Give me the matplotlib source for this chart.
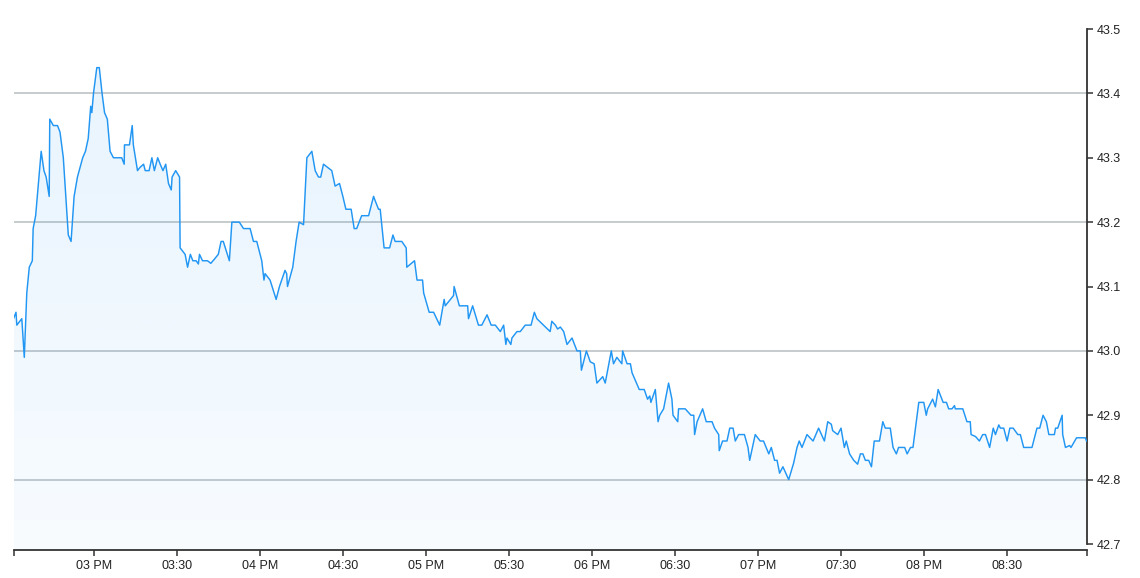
import numpy as np
import pandas as pd
import matplotlib
matplotlib.use("Agg")
import matplotlib.pyplot as plt
import matplotlib.dates as mdates
from matplotlib.ticker import FuncFormatter

plt.rcParams['font.family'] = ['Liberation Sans', 'DejaVu Sans']

# minutes after 14:30 and the price at that vertex
minutes = [
    1.0, 1.9, 2.2, 4.0, 4.9, 5.8, 6.7, 7.8, 8.1, 9.0, 11.0, 12.0, 12.8, 13.9, 14.1,
    15.4, 16.9, 17.8, 19.0, 20.8, 21.8, 22.9, 24.1, 26.0, 27.0, 28.0, 28.9, 29.3, 29.9,
    31.1, 32.0, 33.0, 33.9, 34.9, 35.9, 37.1, 38.9, 40.1, 41.0, 41.1, 42.9, 43.9, 44.3,
    45.8, 46.7, 48.0, 48.6, 50.0, 51.0, 51.9, 53.1, 54.0, 55.0, 56.0, 57.0, 58.0, 58.3,
    59.6, 61.0, 61.2, 63.0, 63.9, 64.9,
    65.8, 67.0, 67.8, 68.2, 69.3, 71.1, 72.3, 73.5, 75.0, 76.0, 76.8, 79.0, 79.9, 82.6,
    84.1, 86.5, 87.7, 88.9, 90.7, 91.5, 91.9, 93.7, 95.9, 97.1, 99.1, 99.7, 100.0, 101.9,
    103.1, 104.2, 105.8, 107.0, 108.8, 110.0, 111.2, 112.0, 113.0, 116.0, 117.2, 118.8,
    120.0, 121.1, 123.0, 124.1, 125.0, 126.8, 129.3, 131.1, 131.7, 132.9, 133.5, 134.9,
    136.9, 138.1, 138.9, 140.1, 141.3, 142.9, 143.1, 145.9, 146.8, 148.8, 149.2, 151.2,
    152.8, 155.0, 156.6, 157.0, 160.0, 160.2, 162.1, 165.1, 165.4, 166.9, 169.0, 170.2,
    172.1, 173.6, 175.1, 176.9, 178.1, 178.9, 179.3, 180.7, 181.1, 182.9, 184.1, 185.9,
    188.0, 189.2, 190.1, 192.5, 194.9, 195.5, 196.8, 197.6, 198.6, 199.8, 201.0, 202.8,
    204.6, 205.8, 206.2, 208.0,
    209.4, 210.8, 211.8, 213.9, 214.8, 217.0, 217.8, 219.0, 220.8, 221.1, 222.7, 223.9,
    224.5, 227.1, 228.9, 230.1, 230.9, 231.3, 232.9, 233.9, 234.5, 235.9, 237.7, 238.9,
    239.3, 241.0, 241.3, 243.7, 245.8, 246.8, 247.1, 248.0, 250.0, 251.3, 253.4, 254.3,
    255.8, 256.0, 257.2, 258.8, 259.8, 261.0, 261.8, 263.0, 265.1, 266.4, 267.0, 269.0,
    270.8, 272.0, 273.9, 274.8, 276.0, 276.9, 277.8, 279.0, 281.1, 282.9, 284.1, 284.9,
    285.9, 287.7, 289.9, 291.9, 294.0, 295.2, 296.5, 297.0, 298.8, 300.0, 301.2, 301.9,
    303.1, 304.6, 306.0, 307.0, 307.9, 308.8, 310.0, 311.0, 312.0, 313.9, 315.1, 316.0,
    317.8, 318.8, 320.0, 320.8, 323.0, 323.9, 325.1, 326.0, 326.9, 328.1, 329.9, 330.8,
    331.3, 333.1, 334.1, 335.1, 336.9, 338.1, 338.9, 340.1, 341.0, 341.3, 344.0, 345.5,
    346.7, 347.0, 348.6, 350.0, 351.2, 352.2, 353.7, 355.0, 355.8, 357.0, 357.6, 358.8,
    360.0, 361.0, 362.2, 363.9, 364.8, 366.0, 369.0, 370.8, 371.8, 373.0, 374.2, 375.1,
    377.1, 377.5, 378.3, 379.9, 380.1, 381.1, 382.6, 383.1, 385.1, 388.3, 388.7,
]
prices = [
    43.05, 43.06, 43.04, 43.05, 42.99, 43.09, 43.13, 43.14, 43.19, 43.21, 43.31, 43.28, 43.27, 43.24, 43.36,
    43.35, 43.35, 43.34, 43.30, 43.18, 43.17, 43.24, 43.27, 43.30, 43.31, 43.33, 43.38, 43.37, 43.40,
    43.44, 43.44, 43.40, 43.37, 43.36, 43.31, 43.30, 43.30, 43.30, 43.29, 43.32, 43.32, 43.35, 43.32,
    43.28, 43.285, 43.29, 43.28, 43.28, 43.30, 43.28, 43.30, 43.29, 43.28, 43.29, 43.26, 43.25, 43.27,
    43.28, 43.27, 43.16, 43.15, 43.13, 43.15,
    43.14, 43.14, 43.135, 43.15, 43.14, 43.14, 43.136, 43.142, 43.15, 43.17, 43.17, 43.14, 43.20, 43.20,
    43.19, 43.19, 43.17, 43.17, 43.14, 43.11, 43.12, 43.11, 43.08, 43.10, 43.125, 43.12, 43.10, 43.13,
    43.17, 43.20, 43.196, 43.30, 43.31, 43.28, 43.27, 43.27, 43.29, 43.28, 43.256, 43.26,
    43.24, 43.22, 43.22, 43.19, 43.19, 43.21, 43.21, 43.24, 43.233, 43.22, 43.22, 43.16,
    43.16, 43.18, 43.17, 43.17, 43.17, 43.16, 43.13, 43.14, 43.11, 43.11, 43.09, 43.06,
    43.06, 43.04, 43.08, 43.07, 43.086, 43.10, 43.07, 43.07, 43.05, 43.07, 43.04, 43.04,
    43.056, 43.04, 43.04, 43.03, 43.04, 43.01, 43.02, 43.01, 43.02, 43.03, 43.03, 43.04,
    43.04, 43.06, 43.05, 43.04, 43.03, 43.046, 43.04, 43.034, 43.037, 43.03, 43.01, 43.02,
    43.00, 43.00, 42.97, 43.00,
    42.983, 42.98, 42.95, 42.96, 42.95, 43.00, 42.98, 42.99, 42.98, 43.00, 42.98, 42.98,
    42.966, 42.94, 42.94, 42.925, 42.93, 42.92, 42.94, 42.89, 42.90, 42.91, 42.95, 42.925,
    42.90, 42.89, 42.91, 42.91, 42.90, 42.90, 42.87, 42.89, 42.91, 42.89, 42.89, 42.88,
    42.87, 42.845, 42.86, 42.86, 42.88, 42.88, 42.86, 42.87, 42.87, 42.85, 42.83, 42.87,
    42.86, 42.86, 42.84, 42.85, 42.83, 42.83, 42.81, 42.82, 42.80, 42.826, 42.85, 42.86,
    42.85, 42.87, 42.86, 42.88, 42.86, 42.89, 42.886, 42.876, 42.87, 42.88, 42.85, 42.86,
    42.84, 42.83, 42.824, 42.84, 42.84, 42.83, 42.83, 42.82, 42.86, 42.86, 42.89, 42.88,
    42.88, 42.85, 42.84, 42.85, 42.85, 42.84, 42.85, 42.85, 42.88, 42.92, 42.92, 42.90,
    42.91, 42.925, 42.913, 42.94, 42.92, 42.92, 42.91, 42.91, 42.915, 42.91, 42.91, 42.89,
    42.89, 42.87, 42.867, 42.86, 42.87, 42.87, 42.85, 42.88, 42.87, 42.885, 42.88, 42.88,
    42.86, 42.88, 42.88, 42.87, 42.87, 42.85, 42.85, 42.88, 42.88, 42.90, 42.89, 42.87,
    42.87, 42.88, 42.88, 42.90, 42.87, 42.85, 42.853, 42.85, 42.865, 42.865, 42.86,
]
y_ticks = [42.7, 42.8, 42.9, 43.0, 43.1, 43.2, 43.3, 43.4, 43.5]
grid_levels = [42.8, 43.0, 43.2, 43.4]

start = pd.Timestamp("2017-06-01 14:30")
times = (start + pd.to_timedelta(minutes, unit="min")).to_pydatetime()
tnum = mdates.date2num(times)

W, H = 1140, 578
fig = plt.figure(figsize=(W / 100, H / 100), dpi=100)
left, right, top, bottom = 13.5, 1086.5, 29.0, 550.0
ax = fig.add_axes([left / W, 1 - bottom / H, (right - left) / W, (bottom - top) / H])

ymin, ymax = 42.6907, 43.5

# gradient area under the line
poly = ax.fill_between(tnum, prices, ymin, color="none", lw=0)
grad = np.zeros((256, 1, 4))
grad[:, 0, 0] = 33 / 255
grad[:, 0, 1] = 150 / 255
grad[:, 0, 2] = 243 / 255
grad[:, 0, 3] = np.linspace(0.11, 0.035, 256)
im = ax.imshow(grad, aspect="auto", extent=[tnum[0], tnum[-1], ymin, ymax],
               origin="upper", zorder=1, interpolation="bilinear")
im.set_clip_path(poly.get_paths()[0], transform=ax.transData)

for g in grid_levels:
    ax.axhline(g, color="#bcc2c6", lw=1.2, zorder=0.5)

ax.plot(tnum, prices, color="#2196f3", lw=1.05, zorder=3, solid_joinstyle="round")

ax.set_xlim(tnum[0], tnum[-1])
ax.set_ylim(ymin, ymax)

for s in ["top", "left"]:
    ax.spines[s].set_visible(False)
ax.spines["right"].set_bounds(42.7, 43.5)
for s in ["right", "bottom"]:
    ax.spines[s].set_color("#333333")
    ax.spines[s].set_linewidth(1.3)

ax.yaxis.tick_right()
ax.set_yticks(y_ticks)
ax.yaxis.set_major_formatter(FuncFormatter(lambda v, p: "%.1f" % v))


def time_label(x, pos):
    d = mdates.num2date(x)
    if d.minute == 0:
        return d.strftime("%I %p")
    return d.strftime("%I:%M")


ax.xaxis.set_major_locator(mdates.MinuteLocator(byminute=[0, 30]))
ax.xaxis.set_major_formatter(FuncFormatter(time_label))
ax.set_xticks([tnum[0], tnum[-1]], minor=True)

ax.tick_params(axis="both", which="both", direction="out", length=4.5, width=1.1,
               color="#333333", labelsize=9, labelcolor="#222222")
ax.tick_params(axis="y", pad=3)
ax.tick_params(axis="x", pad=2.5)
ax.set_facecolor("none")

fig.savefig("out.png", dpi=100)
